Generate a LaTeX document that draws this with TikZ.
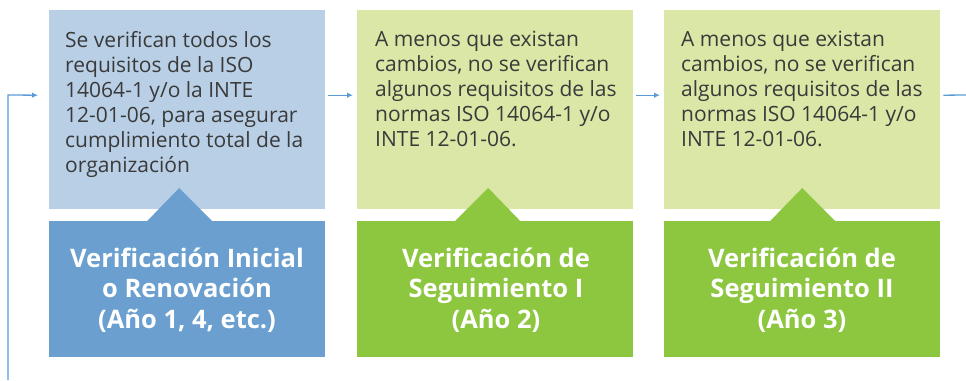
\documentclass[tikz,border=0pt]{standalone}
\usepackage{fontspec}
\setmainfont{Open Sans}
\usetikzlibrary{arrows.meta}
\definecolor{paleblue}{HTML}{B8CFE6}
\definecolor{deepblue}{HTML}{6A9FCF}
\definecolor{palegreen}{HTML}{DAE7A6}
\definecolor{deepgreen}{HTML}{8DC63F}
\definecolor{linkblue}{HTML}{5B9BD5}
\definecolor{bodygray}{HTML}{3A3A3A}
\tikzset{
    topbox/.style={rectangle, inner sep=0pt, minimum width=276pt, minimum height=199pt, anchor=north west},
    botbox/.style={rectangle, inner sep=0pt, minimum width=276pt, minimum height=136pt, anchor=north west},
    desc/.style={anchor=north west, inner sep=0pt, align=left, text=bodygray,
        font=\fontsize{21}{25}\selectfont},
    title/.style={anchor=north, inner sep=0pt, align=center, text=white, font=\fontsize{25.5}{30.5}\selectfont\bfseries},
    link/.style={linkblue, line width=1.3pt},
    linkarrow/.style={link, -{Latex[length=6pt,width=5.5pt]}}
}

\begin{document}
\begin{tikzpicture}[x=1pt, y=-1pt]
    \useasboundingbox (0,0) rectangle (966,380);

    \node (t1) [topbox, fill=paleblue] at (49,10) {};
    \node (b1) [botbox, fill=deepblue] at (49,221) {};
    \node (t2) [topbox, fill=palegreen] at (357,10) {};
    \node (b2) [botbox, fill=deepgreen] at (357,221) {};
    \node (t3) [topbox, fill=palegreen] at (664,10) {};
    \node (b3) [botbox, fill=deepgreen] at (664,221) {};

    % pointers
    \fill[deepblue] ([xshift=-40pt]b1.north) -- ([xshift=-8pt,yshift=33pt]b1.north) -- ([xshift=25pt]b1.north) -- cycle;
    \fill[deepgreen] ([xshift=-40pt]b2.north) -- ([xshift=-7pt,yshift=33pt]b2.north) -- ([xshift=25pt]b2.north) -- cycle;
    \fill[deepgreen] ([xshift=-32pt]b3.north) -- ([yshift=33pt]b3.north) -- ([xshift=33pt]b3.north) -- cycle;

    \node (d1) [desc] at (65,31) {Se verifican todos los\\requisitos de la ISO\\14064-1 y/o la INTE\\12-01-06, para asegurar\\cumplimiento total de la\\organización};
    \node (d2) [desc] at (375,31) {A menos que existan\\cambios, no se verifican\\algunos requisitos de las\\normas ISO 14064-1 y/o\\INTE 12-01-06.};
    \node (d3) [desc] at (681,31) {A menos que existan\\cambios, no se verifican\\algunos requisitos de las\\normas ISO 14064-1 y/o\\INTE 12-01-06.};

    \node (h1) [title] at (187,247.5) {Verificación Inicial\\o Renovación\\(Año 1, 4, etc.)};
    \node (h2) [title] at (496,247.5) {Verificación de\\Seguimiento I\\(Año 2)};
    \node (h3) [title] at (802,247.5) {Verificación de\\Seguimiento II\\(Año 3)};

    \coordinate (loopstart) at (8,380);
    \coordinate (loopcorner) at (8,95);
    \coordinate (exit) at (966,95);

    \draw[linkarrow] (loopstart) -- (loopcorner) -- ([xshift=-11pt,yshift=14.5pt]t1.west);
    \draw[linkarrow] ([xshift=3pt,yshift=14.5pt]t1.east) -- ([xshift=-4pt,yshift=14.5pt]t2.west);
    \draw[linkarrow] ([xshift=3pt,yshift=14.5pt]t2.east) -- ([xshift=-4pt,yshift=14.5pt]t3.west);
    \draw[link] ([xshift=3pt,yshift=14.5pt]t3.east) -- (exit);
\end{tikzpicture}
\end{document}
